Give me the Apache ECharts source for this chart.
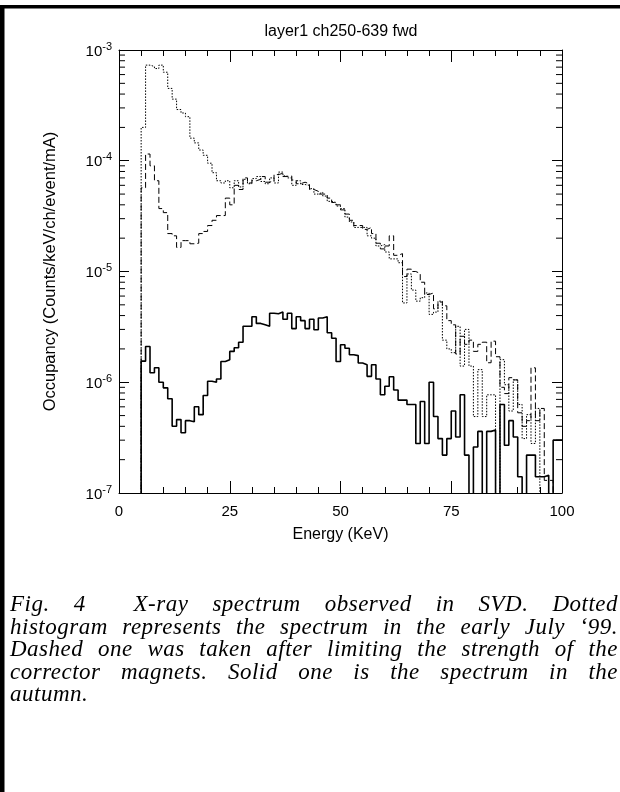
<!DOCTYPE html>
<html>
<head>
<meta charset="utf-8">
<script src="https://cdn.jsdelivr.net/npm/echarts@6/dist/echarts.min.js"></script>
<style>
  html, body { margin: 0; padding: 0; background: #fff; }
  #chart { position: absolute; left: 0; top: 0; width: 620px; height: 792px; }
  .caption {
    position: absolute; left: 10px; top: 593px; width: 608px;
    font-family: "Liberation Serif", "DejaVu Serif", serif;
    font-style: italic; font-size: 23px; line-height: 22.5px; letter-spacing: 0.5px; color: #000;
  }
  .caption div { text-align: justify; text-align-last: justify; }
  .caption div.last { text-align-last: left; }
</style>
</head>
<body>
<div id="chart"></div>
<div class="caption">
  <div>Fig. 4&nbsp; X-ray spectrum observed in SVD. Dotted</div>
  <div>histogram represents the spectrum in the early July ‘99.</div>
  <div>Dashed one was taken after limiting the strength of the</div>
  <div>corrector magnets. Solid one is the spectrum in the</div>
  <div class="last">autumn.</div>
</div>
<script>
// 1 keV bins, first filled bin starts at 5 keV, last ends at 100 keV
const binLow = 5;
const binHigh = 100;

// early July '99 (dotted)
const dotted = [
  2.0e-4, 7.3e-4, 7.1e-4, 6.8e-4, 7.3e-4, 6.3e-4, 4.5e-4, 3.6e-4, 2.9e-4, 2.7e-4,
  2.5e-4, 1.6e-4, 1.45e-4, 1.25e-4, 1.12e-4, 9.5e-5, 7.8e-5, 6.6e-5, 6.3e-5, 6.6e-5,
  5.7e-5, 6.6e-5, 5.8e-5, 6.8e-5, 6.2e-5, 6.9e-5, 7.2e-5, 6.5e-5, 6.2e-5, 7.0e-5,
  6.3e-5, 7.9e-5, 7.3e-5, 7.0e-5, 6.0e-5, 6.6e-5, 6.1e-5, 6.0e-5, 5.6e-5, 5.0e-5,
  5.2e-5, 4.8e-5, 4.3e-5, 4.2e-5, 3.9e-5, 3.7e-5, 3.1e-5, 2.8e-5, 2.5e-5, 2.5e-5,
  2.5e-5, 2.1e-5, 2.0e-5, 1.7e-5, 1.75e-5, 1.5e-5, 1.3e-5, 1.3e-5, 1.2e-5, 5.2e-6,
  9.5e-6, 6.8e-6, 5.4e-6, 5.8e-6, 6.4e-6, 4.1e-6, 4.3e-6, 5.4e-6, 2.4e-6, 2.0e-6,
  1.85e-6, 3.2e-6, 1.4e-6, 3.0e-6, 1.4e-6, 4.9e-7, 1.3e-6, 4.9e-7, 7.7e-7, 7.7e-7,
  0, 1.6e-6, 9.5e-7, 5.5e-7, 1.05e-6, 6.3e-7, 3.1e-7, 5.1e-7, 2.8e-7, 5.8e-7,
  0, 0, 0, 0, 0
];

// after limiting corrector magnets (dashed)
const dashed = [
  5.7e-5, 1.15e-4, 9.0e-5, 6.6e-5, 3.7e-5, 3.4e-5, 2.2e-5, 2.1e-5, 1.65e-5, 1.9e-5,
  1.9e-5, 1.78e-5, 1.8e-5, 2.2e-5, 2.3e-5, 2.6e-5, 2.9e-5, 3.2e-5, 3.2e-5, 4.6e-5,
  4.0e-5, 6.0e-5, 5.5e-5, 7.0e-5, 6.3e-5, 6.6e-5, 6.8e-5, 7.2e-5, 6.4e-5, 6.6e-5,
  7.5e-5, 7.7e-5, 7.2e-5, 7.3e-5, 6.7e-5, 6.2e-5, 6.4e-5, 6.2e-5, 5.5e-5, 5.3e-5,
  5.0e-5, 5.0e-5, 4.6e-5, 4.2e-5, 4.0e-5, 3.6e-5, 3.3e-5, 2.9e-5, 2.6e-5, 2.6e-5,
  2.4e-5, 2.5e-5, 2.2e-5, 1.8e-5, 1.6e-5, 1.7e-5, 2.1e-5, 1.4e-5, 1.45e-5, 9.0e-6,
  1.05e-5, 1.0e-5, 9.6e-6, 8.0e-6, 6.2e-6, 6.4e-6, 4.6e-6, 5.3e-6, 4.9e-6, 3.6e-6,
  3.3e-6, 1.8e-6, 2.6e-6, 2.2e-6, 2.4e-6, 1.9e-6, 2.2e-6, 2.3e-6, 1.5e-6, 2.35e-6,
  1.7e-6, 9.0e-7, 7.9e-7, 1.1e-6, 1.05e-6, 5.3e-7, 4.0e-7, 4.5e-7, 1.35e-6, 4.5e-7,
  5.8e-7, 1.3e-7, 1.3e-7, 0, 0
];

// autumn (solid)
const solid = [
  1.55e-6, 2.1e-6, 1.22e-6, 1.35e-6, 1.0e-6, 8.9e-7, 7.1e-7, 4.0e-7, 4.6e-7, 3.5e-7,
  4.5e-7, 4.4e-7, 6.0e-7, 5.1e-7, 7.6e-7, 1.02e-6, 1.0e-6, 1.07e-6, 1.54e-6, 1.6e-6,
  1.9e-6, 2.05e-6, 2.3e-6, 3.2e-6, 3.2e-6, 3.9e-6, 3.4e-6, 3.3e-6, 3.2e-6, 4.2e-6,
  4.15e-6, 4.3e-6, 3.7e-6, 4.2e-6, 3.05e-6, 3.9e-6, 3.6e-6, 3.05e-6, 3.7e-6, 2.98e-6,
  3.8e-6, 3.9e-6, 2.8e-6, 2.5e-6, 1.54e-6, 2.18e-6, 2.03e-6, 1.77e-6, 1.74e-6, 1.49e-6,
  1.44e-6, 1.13e-6, 1.44e-6, 1.07e-6, 7.7e-7, 9.2e-7, 1.12e-6, 8.5e-7, 6.9e-7, 6.9e-7,
  6.3e-7, 6.3e-7, 2.8e-7, 6.7e-7, 2.8e-7, 1.0e-6, 4.9e-7, 3.1e-7, 2.2e-7, 3.1e-7,
  5.5e-7, 3.2e-7, 7.7e-7, 2.2e-7, 0, 2.6e-7, 3.6e-7, 0, 3.6e-7, 3.7e-7,
  0, 6.3e-7, 2.7e-7, 4.5e-7, 3.2e-7, 1.4e-7, 0, 2.2e-7, 2.2e-7, 1.4e-7,
  1.4e-7, 1.45e-7, 0, 3.0e-7, 3.0e-7
];

const yMin = 1e-7;
const yMax = 1e-3;
const FLOOR = 1e-9; // empty bins drop below the axis and get clipped
const FONT = '"Liberation Sans", Arial, sans-serif';

// step points: each value holds from its bin's low edge to the next one
function histPoints(vals) {
  const pts = [[binLow, FLOOR]];
  vals.forEach((v, i) => pts.push([binLow + i, v > 0 ? v : FLOOR]));
  const last = vals[vals.length - 1];
  pts.push([binHigh, last > 0 ? last : FLOOR]);
  return pts;
}

// minor log ticks 2..9 in each decade
const minorTicks = [];
for (let e = -7; e < -3; e++) {
  for (let m = 2; m <= 9; m++) minorTicks.push([0, m * Math.pow(10, e)]);
}

function histSeries(vals, type, width) {
  return {
    type: 'line',
    step: 'end',
    showSymbol: false,
    clip: true,
    silent: true,
    lineStyle: { color: '#000', width: width, type: type },
    data: histPoints(vals),
  };
}

const axisLine = { show: true, onZero: false, lineStyle: { color: '#000', width: 1 } };

const chart = echarts.init(document.getElementById('chart'));
const option = {
  animation: false,
  backgroundColor: '#fff',
  grid: { left: 119, top: 50, width: 443, height: 443 },
  xAxis: [
    {
      type: 'value', min: 0, max: 100, interval: 25, position: 'bottom',
      axisLine: axisLine,
      axisTick: { inside: true, length: 12, lineStyle: { color: '#000' } },
      minorTick: { show: true, splitNumber: 5, length: 6, lineStyle: { color: '#000' } },
      splitLine: { show: false },
      axisLabel: { margin: 11, color: '#000', fontSize: 15, fontFamily: FONT },
      name: 'Energy (KeV)', nameLocation: 'middle', nameGap: 34,
      nameTextStyle: { color: '#000', fontSize: 16, fontFamily: FONT },
    },
    {
      type: 'value', min: 0, max: 100, interval: 25, position: 'top',
      axisLine: axisLine,
      axisTick: { inside: true, length: 12, lineStyle: { color: '#000' } },
      minorTick: { show: true, splitNumber: 5, length: 6, lineStyle: { color: '#000' } },
      splitLine: { show: false },
      axisLabel: { show: false },
    },
  ],
  yAxis: [
    {
      type: 'log', logBase: 10, min: yMin, max: yMax, position: 'left',
      axisLine: axisLine,
      axisTick: { inside: true, length: 10, lineStyle: { color: '#000' } },
      splitLine: { show: false },
      axisLabel: {
        margin: 7, color: '#000', fontFamily: FONT,
        formatter: function (v) {
          return '{b|10}{e|' + Math.round(Math.log10(v)) + '}';
        },
        rich: {
          b: { fontSize: 15, fontFamily: FONT, color: '#000', verticalAlign: 'bottom' },
          e: { fontSize: 11, fontFamily: FONT, color: '#000', verticalAlign: 'bottom', padding: [0, 0, 7, 0] },
        },
      },
      name: 'Occupancy (Counts/keV/ch/event/mA)', nameLocation: 'middle', nameGap: 60,
      nameTextStyle: { color: '#000', fontSize: 16.5, fontFamily: FONT },
    },
    {
      type: 'log', logBase: 10, min: yMin, max: yMax, position: 'right',
      axisLine: axisLine,
      axisTick: { inside: true, length: 10, lineStyle: { color: '#000' } },
      splitLine: { show: false },
      axisLabel: { show: false },
    },
  ],
  graphic: [
    { type: 'rect', shape: { x: 0, y: 5, width: 620, height: 3.5 }, style: { fill: '#000' } },
    { type: 'rect', shape: { x: 0, y: 5, width: 4.5, height: 787 }, style: { fill: '#000' } },
    {
      type: 'text', x: 341, y: 32,
      style: { text: 'layer1 ch250-639 fwd', fill: '#000', fontSize: 16, fontFamily: FONT, align: 'center', verticalAlign: 'middle' },
    },
  ],
  series: [
    histSeries(dotted, [1.5, 1.5], 1),
    histSeries(dashed, [6, 3], 1),
    histSeries(solid, 'solid', 1.6),
    {
      type: 'custom', silent: true, clip: false,
      data: minorTicks,
      renderItem: function (params, api) {
        const l = api.coord([0, api.value(1)]);
        const r = api.coord([100, api.value(1)]);
        const st = { stroke: '#000', lineWidth: 1 };
        return {
          type: 'group',
          children: [
            { type: 'line', shape: { x1: l[0], y1: l[1], x2: l[0] + 6, y2: l[1] }, style: st },
            { type: 'line', shape: { x1: r[0] - 6, y1: r[1], x2: r[0], y2: r[1] }, style: st },
          ],
        };
      },
    },
  ],
};
chart.setOption(option);
</script>
</body>
</html>
